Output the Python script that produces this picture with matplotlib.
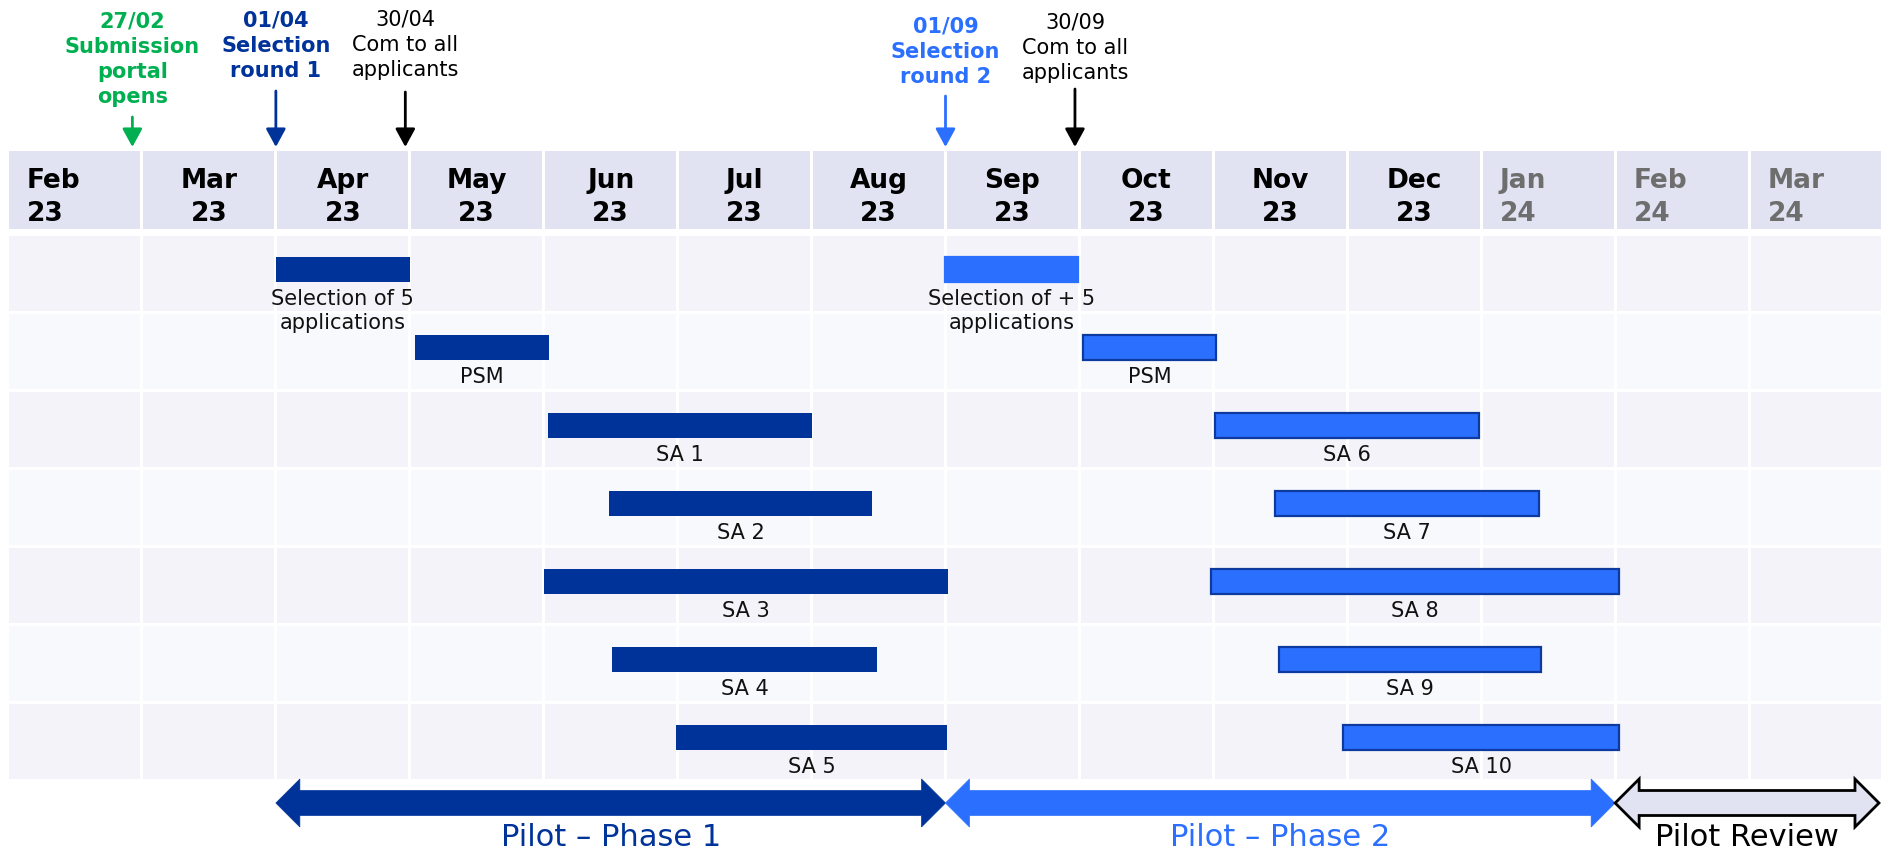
import numpy as np
import matplotlib
matplotlib.use("Agg")
import matplotlib.pyplot as plt
from matplotlib.patches import Rectangle, Polygon

# Timeline columns
months = ["Feb", "Mar", "Apr", "May", "Jun", "Jul", "Aug", "Sep", "Oct", "Nov", "Dec", "Jan", "Feb", "Mar"]
years = ["23"] * 11 + ["24"] * 3

# Milestones (dd/mm 2023) and their captions
ms_dates = ["27/02", "01/04", "30/04", "01/09", "30/09"]
ms_text = ["Submission\nportal\nopens", "Selection\nround 1", "Com to all\napplicants",
           "Selection\nround 2", "Com to all\napplicants"]

# Tasks, in months since 1 Feb 2023
p1_tasks = ["Selection of 5\napplications", "PSM", "SA 1", "SA 2", "SA 3", "SA 4", "SA 5"]
p1_start = [2.0, 3.04, 4.03, 4.49, 4.0, 4.51, 4.99]
p1_end = [3.0, 4.04, 6.0, 6.45, 7.02, 6.49, 7.01]
p2_tasks = ["Selection of + 5\napplications", "PSM", "SA 6", "SA 7", "SA 8", "SA 9", "SA 10"]
p2_start = [7.0, 8.03, 9.01, 9.46, 8.98, 9.49, 9.97]
p2_end = [7.99, 9.02, 10.98, 11.43, 12.03, 11.45, 12.03]

# Pilot phases
phases = ["Pilot \u2013 Phase 1", "Pilot \u2013 Phase 2", "Pilot Review"]
phase_start = [2.0, 7.0, 12.0]
phase_end = [7.0, 12.0, 13.97]

DARK = "#003399"
LIGHT = "#2b6fff"
GREEN = "#00b050"
HEAD = "#e1e3f2"

# pixel layout helpers
W, H = 1883, 854
X0, MW = 8, (1883 - 8) / 14
Y0, RH = 235.5, 78.0


def ry(px):
    return (px - Y0) / RH


def month_pos(d):
    dd, mm = (int(v) for v in d.split("/"))
    days = [31, 28, 31, 30, 31, 30, 31, 31, 30, 31, 30, 31][mm - 1]
    return (mm - 2) + (dd - 1) / days


fig = plt.figure(figsize=(W / 100, H / 100), dpi=100)
ax = fig.add_axes([0, 0, 1, 1])
ax.set_xlim(-X0 / MW, (W - X0) / MW)
ax.set_ylim(ry(H), ry(0))
ax.axis("off")

gx, gy = 1.5 / MW, 1.3 / RH
n_rows = len(p1_tasks)

# grid cells
for i in range(n_rows):
    fc = "#f3f3f9" if i % 2 == 0 else "#f8f9fc"
    for j in range(len(months)):
        ax.add_patch(Rectangle((j + gx, i + gy), 1 - 2 * gx, 1 - 2 * gy, fc=fc, ec="none", zorder=0))

# header
for j, (m, yr) in enumerate(zip(months, years)):
    ax.add_patch(Rectangle((j + gx, ry(152)), 1 - 2 * gx, ry(230) - ry(152), fc=HEAD, ec="none", zorder=0))
    grey = yr == "24"
    left = j == 0 or grey
    ax.text(j + 0.14 if left else j + 0.5, ry(221), f"{m}\n{yr}",
            ha="left" if left else "center", va="baseline",
            fontsize=19, fontweight="bold", linespacing=1.33,
            color="#6e6e6e" if grey else "black")

# bars
rows = np.arange(n_rows)
off, bh = 0.445, 0.32
ax.barh(rows + off, np.subtract(p1_end, p1_start), left=p1_start, height=bh,
        color=DARK, zorder=2)
ax.barh(rows + off, np.subtract(p2_end, p2_start), left=p2_start, height=bh,
        color=LIGHT, edgecolor=[LIGHT] + ["#0c3a9e"] * (n_rows - 1), linewidth=1.6, zorder=2)

for tasks, s, e in [(p1_tasks, p1_start, p1_end), (p2_tasks, p2_start, p2_end)]:
    for i, t in enumerate(tasks):
        ax.text((s[i] + e[i]) / 2, i + off + bh / 2 + 6 / RH, t, ha="center", va="top",
                fontsize=15, color="#111111", linespacing=1.3, zorder=3)

# milestones
ms_colors = [GREEN, DARK, "black", LIGHT, "black"]
ms_weight = ["bold", "bold", "normal", "bold", "normal"]
ms_base_px = [103, 77, 76, 83, 79]
ms_tail_px = [118, 92, 93, 97, 90]
for d, t, c, w, b, tl in zip(ms_dates, ms_text, ms_colors, ms_weight, ms_base_px, ms_tail_px):
    x = month_pos(d)
    ax.text(x, ry(b), f"{d}\n{t}", ha="center", va="baseline", fontsize=15,
            fontweight=w, color=c, linespacing=1.32)
    ax.annotate("", xy=(x, ry(148)), xytext=(x, ry(tl)),
                arrowprops=dict(arrowstyle="-|>,head_length=0.55,head_width=0.3",
                                color=c, lw=2, shrinkA=0, shrinkB=0, mutation_scale=20))

# phase arrows
yc = ry(804)
body, head, hl = 12.5 / RH, 24 / RH, 24 / MW
ph_fill = [DARK, LIGHT, HEAD]
ph_edge = [DARK, LIGHT, "black"]
ph_text = [DARK, LIGHT, "black"]
for name, s, e, fc, ec, tc in zip(phases, phase_start, phase_end, ph_fill, ph_edge, ph_text):
    pts = [(s, yc), (s + hl, yc - head), (s + hl, yc - body), (e - hl, yc - body),
           (e - hl, yc - head), (e, yc), (e - hl, yc + head), (e - hl, yc + body),
           (s + hl, yc + body), (s + hl, yc + head)]
    ax.add_patch(Polygon(pts, closed=True, fc=fc, ec=ec, lw=2 if ec == "black" else 0.5,
                         joinstyle="miter", zorder=2))
    ax.text((s + e) / 2, ry(846), name, ha="center", va="baseline", fontsize=22, color=tc)

fig.savefig("out.png", dpi=100)
